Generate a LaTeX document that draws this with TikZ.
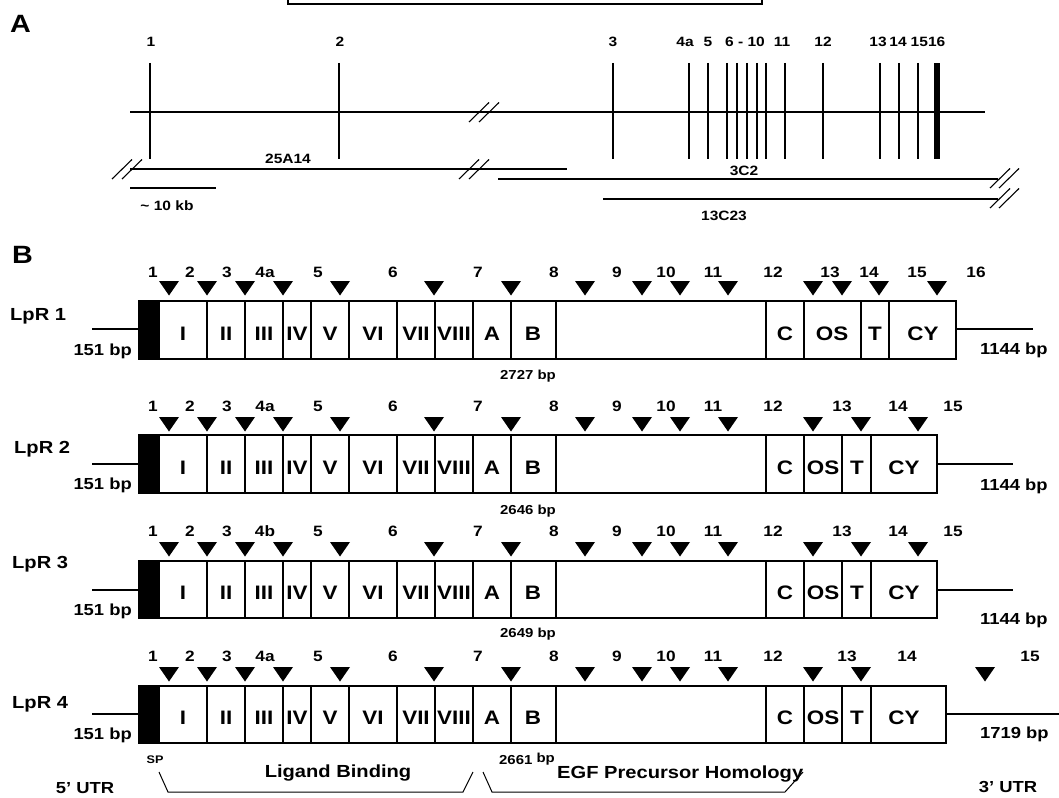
\documentclass[tikz,border=0pt]{standalone}
\usepackage{fontspec}
\setmainfont{Liberation Sans}[FakeStretch=1.15]
\newcommand{\fsz}[1]{\fontsize{#1}{#1}\selectfont\bfseries}
\tikzset{
  gl/.style={line width=1.3pt},
  bx/.style={line width=1.2pt},
  brk/.style={line width=1.1pt},
  lab/.style={inner sep=0pt, anchor=base, font=\fsz{19.5}},
  num/.style={inner sep=0pt, anchor=base, font=\fsz{15}},
  anum/.style={inner sep=0pt, anchor=base, font=\fsz{13.5}},
  bp/.style={inner sep=0pt, font=\fsz{16}},
  sbp/.style={inner sep=0pt, anchor=base, font=\fsz{13}},
  rowname/.style={inner sep=0pt, anchor=base west, font=\fsz{17.5}},
}
% #1 top, #2 bottom, #3 right end, #4 extra dividers, #5 extra labels,
% #6 triangle top, #7 extra triangles, #8 number baseline, #9 extra numbers
\newcommand\lrow[9]{%
  \draw[bx] (139,#1) rectangle (#3,#2);
  \fill (139,#1) rectangle (159,#2);
  \foreach \x in {159,207,245,283,311,349,397,435,473,511,556,766,804,#4}
    \draw[bx] (\x,#1) -- (\x,#2);
  \foreach \x/\t in {183/I,226/II,264/III,297/IV,330/V,373/VI,416/VII,454/VIII,492/A,533/B,785/C,#5}
    \node[lab] (L\rid-\x) at (\x,{(#1+#2)/2+10}) {\t};
  \foreach \x in {169,207,245,283,340,434,511,585,642,680,728,813,#7}
    \fill ({\x-10},#6) -- ({\x+10},#6) -- (\x,{#6+14.5}) -- cycle;
  \foreach \x/\t in {153/1,190/2,227/3,318/5,393/6,478/7,554/8,617/9,666/10,713/11,773/12,#9}
    \node[num] (N\rid-\x) at (\x,#8) {\t};
}
\begin{document}
\begin{tikzpicture}[x=1pt,y=-1pt]
\useasboundingbox (0,0) rectangle (1059,797);
% top framed box (cut off)
\draw[line width=2pt] (288,-10) -- (288,4) -- (762,4) -- (762,-10);

% ---------------- Part A ----------------
\node[inner sep=0pt, anchor=base west, font=\fsz{25}] (labA) at (10,33) {A};
\draw[gl] (130,112) -- (985,112);
\foreach \x in {150,339,613,689,708,727,737,747,757,766,785,823,880,899,918}
  \draw[gl] (\x,63) -- (\x,159);
\fill (934,63) rectangle (940,159);
\foreach \x/\t in {151/1,340/2,613/3,685/4a,708/5,745/6 - 10,782/11,823/12,878/13,898/14,928/1516}
  \node[anum] (A\x) at (\x,47) {\t};
% clone lines
\draw[gl] (130,169) -- (567,169);
\draw[gl] (498,179) -- (998,179);
\draw[gl] (603,199) -- (998,199);
\draw[gl] (130,188) -- (216,188);
% break marks
\foreach \x/\y in {469/122,479/122,112/179,122/179,459/179,469/179,990/188,999/188,990/208,999/208}
  \draw[brk] (\x,\y) -- ++(20,-19.5);
\node[anum] (c25) at (288,163) {25A14};
\node[anum] (c3) at (744,175) {3C2};
\node[anum] (c13) at (724,220) {13C23};
\node[anum] (scl) at (167,210) {\char"007E\ 10 kb};

% ---------------- Part B ----------------
\node[inner sep=0pt, anchor=base west, font=\fsz{25}] (labB) at (12,263) {B};

% LpR 1
\def\rid{1}
\lrow{301}{359}{956}{861,889}{832/OS,875/T,923/CY}{281}{842,879,937}{277}{265/4a,830/13,869/14,917/15,976/16}
\draw[bx] (92,329) -- (139,329);
\draw[bx] (956,329) -- (1033,329);
\node[rowname] (r1) at (10,320) {LpR 1};
\node[bp, anchor=base east] (l1) at (132,355) {151 bp};
\node[bp, anchor=base west] (e1) at (980,354) {1144 bp};
\node[sbp] (m1) at (528,379) {2727 bp};

% LpR 2
\def\rid{2}
\lrow{435}{493}{937}{842,871}{823/OS,857/T,904/CY}{417}{861,918}{411.5}{265/4a,842/13,898/14,953/15}
\draw[bx] (92,464) -- (139,464);
\draw[bx] (937,464) -- (1013,464);
\node[rowname] (r2) at (14,453) {LpR 2};
\node[bp, anchor=base east] (l2) at (132,489) {151 bp};
\node[bp, anchor=base west] (e2) at (980,490) {1144 bp};
\node[sbp] (m2) at (528,514) {2646 bp};

% LpR 3
\def\rid{3}
\lrow{561}{618}{937}{842,871}{823/OS,857/T,904/CY}{542}{861,918}{536.5}{265/4b,842/13,898/14,953/15}
\draw[bx] (92,590) -- (139,590);
\draw[bx] (937,590) -- (1013,590);
\node[rowname] (r3) at (12,568) {LpR 3};
\node[bp, anchor=base east] (l3) at (132,615) {151 bp};
\node[bp, anchor=base west] (e3) at (980,624) {1144 bp};
\node[sbp] (m3) at (528,637) {2649 bp};

% LpR 4
\def\rid{4}
\lrow{686}{743}{946}{842,871}{823/OS,857/T,904/CY}{667}{861,985}{661.5}{265/4a,847/13,907/14,1030/15}
\draw[bx] (92,714) -- (139,714);
\draw[bx] (946,714) -- (1059,714);
\node[rowname] (r4) at (12,708) {LpR 4};
\node[bp, anchor=base east] (l4) at (132,739) {151 bp};
\node[bp, anchor=base west] (e4) at (980,738) {1719 bp};
\node[sbp] (m4) at (527,764) {2661 \raisebox{2pt}{bp}};

% domain brackets
\node[inner sep=0pt, anchor=base, font=\fsz{11}] (sp) at (155,763) {SP};
\coordinate (lb1) at (159,772); \coordinate (lb2) at (168,792);
\coordinate (lb3) at (463,792); \coordinate (lb4) at (473,772);
\draw[bx, line width=1pt] (lb1) -- (lb2) -- (lb3) -- (lb4);
\node[inner sep=0pt, anchor=base, font=\fsz{17.5}] (lig) at (338,777) {Ligand Binding};
\coordinate (eg1) at (483,772); \coordinate (eg2) at (492,792);
\coordinate (eg3) at (785,792); \coordinate (eg4) at (803,772);
\draw[bx, line width=1pt] (eg1) -- (eg2) -- (eg3) -- (eg4);
\node[inner sep=0pt, anchor=base west, font=\fsz{17.5}] (egf) at (557,778) {EGF Precursor Homology};
\node[inner sep=0pt, anchor=base, font=\fsz{16}] (u5) at (85,793) {5’ UTR};
\node[inner sep=0pt, anchor=base, font=\fsz{16}] (u3) at (1008,792) {3’ UTR};
\end{tikzpicture}
\end{document}
